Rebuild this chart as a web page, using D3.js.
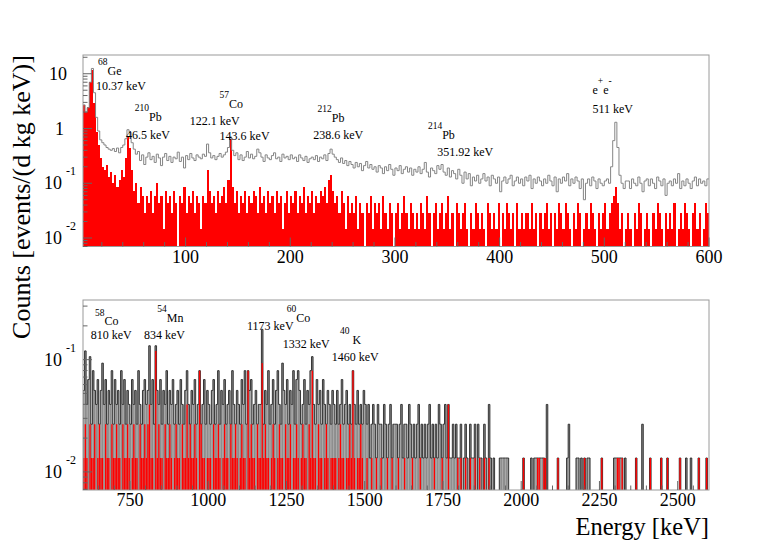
<!DOCTYPE html>
<html lang="en">
<head>
<meta charset="UTF-8">
<title>Energy spectrum</title>
<script src="https://d3js.org/d3.v7.min.js"></script>
<style>
  body { margin: 0; background: #fff; }
  svg { display: block; font-family: "Liberation Serif", "Times New Roman", serif; }
</style>
</head>
<body>
<svg id="chart" width="766" height="547"></svg>
<script>
// ---------- data ----------
// upper panel: 2 keV bins from 2 to 600 keV
const topBinStart = 2, topBinWidth = 2;
// grey line, events/(d kg keV)
const topGreyRate = [
  2.7, 2.0, 2.4, 7.0, 12.5, 4.5, 1.6, 0.9, 0.62, 0.55,
  0.5, 0.45, 0.42, 0.40, 0.43, 0.38, 0.44, 0.36, 0.45, 0.5,
  0.65, 0.95, 0.85, 0.55, 0.42, 0.34, 0.38, 0.26, 0.33, 0.22,
  0.3, 0.36, 0.27, 0.31, 0.24, 0.34, 0.29, 0.21, 0.3, 0.35,
  0.26, 0.31, 0.24, 0.3, 0.28, 0.37, 0.25, 0.3, 0.19, 0.32,
  0.27, 0.35, 0.29, 0.26, 0.33, 0.3, 0.28, 0.34, 0.31, 0.52,
  0.36, 0.29, 0.32, 0.27, 0.31, 0.35, 0.3, 0.33, 0.37, 0.45,
  0.7, 0.4, 0.32, 0.36, 0.27, 0.33, 0.26, 0.3, 0.38, 0.29,
  0.34, 0.28, 0.31, 0.42, 0.36, 0.3, 0.25, 0.33, 0.29, 0.27,
  0.32, 0.36, 0.28, 0.3, 0.25, 0.34, 0.29, 0.31, 0.27, 0.33,
  0.28, 0.3, 0.25, 0.33, 0.29, 0.26, 0.31, 0.24, 0.28, 0.3,
  0.27, 0.32, 0.25, 0.3, 0.28, 0.33, 0.26, 0.35, 0.42, 0.34,
  0.3, 0.27, 0.24, 0.29, 0.23, 0.26, 0.21, 0.25, 0.22, 0.19,
  0.24, 0.2, 0.23, 0.17, 0.21, 0.25, 0.19, 0.22, 0.18, 0.2,
  0.16, 0.21, 0.19, 0.15, 0.2, 0.17, 0.22, 0.18, 0.14, 0.19,
  0.17, 0.21, 0.15, 0.18, 0.2, 0.16, 0.19, 0.14, 0.18, 0.16,
  0.2, 0.15, 0.18, 0.24, 0.16, 0.13, 0.19, 0.17, 0.15, 0.21,
  0.18, 0.22, 0.16, 0.14, 0.19, 0.13, 0.17, 0.15, 0.12, 0.18,
  0.14, 0.1, 0.16, 0.12, 0.15, 0.09, 0.13, 0.11, 0.14, 0.1,
  0.12, 0.15, 0.11, 0.13, 0.09, 0.14, 0.12, 0.1, 0.13, 0.07,
  0.11, 0.13, 0.1, 0.12, 0.14, 0.09, 0.11, 0.13, 0.1, 0.12,
  0.09, 0.13, 0.11, 0.14, 0.08, 0.12, 0.1, 0.13, 0.11, 0.09,
  0.12, 0.1, 0.14, 0.11, 0.09, 0.13, 0.07, 0.12, 0.1, 0.13,
  0.11, 0.15, 0.09, 0.12, 0.1, 0.13, 0.11, 0.08, 0.12, 0.05,
  0.1, 0.12, 0.09, 0.13, 0.11, 0.08, 0.12, 0.1, 0.09, 0.11,
  0.12, 0.1, 0.2, 0.6, 1.3, 0.45, 0.14, 0.1, 0.08, 0.11,
  0.11, 0.08, 0.12, 0.1, 0.09, 0.13, 0.1, 0.07, 0.11, 0.12,
  0.09, 0.12, 0.1, 0.08, 0.13, 0.11, 0.09, 0.12, 0.06, 0.1,
  0.11, 0.09, 0.12, 0.1, 0.15, 0.08, 0.11, 0.09, 0.12, 0.1,
  0.08, 0.11, 0.13, 0.09, 0.12, 0.1, 0.11, 0.09, 0.12
];
// red filled histogram, counts per bin (one count = topRedUnit)
const topRedUnit = 0.0144;
const topRedCounts = [
  190, 140, 170, 500, 800, 200, 60, 35, 20, 14,
  12, 15, 9, 11, 7, 10, 6, 8, 12, 9,
  20, 48, 30, 12, 5, 7, 3, 6, 4, 2,
  4, 3, 5, 2, 4, 7, 3, 4, 1, 5,
  3, 4, 2, 5, 3, 0, 4, 3, 6, 2,
  4, 3, 5, 2, 4, 3, 1, 4, 3, 12,
  5, 3, 4, 2, 5, 3, 4, 6, 3, 8,
  45, 6, 3, 5, 2, 4, 3, 5, 2, 4,
  3, 5, 4, 2, 6, 3, 4, 2, 5, 3,
  4, 2, 5, 3, 4, 1, 3, 5, 2, 4,
  3, 5, 2, 4, 3, 6, 2, 4, 3, 5,
  2, 4, 3, 5, 4, 6, 3, 8, 10, 5,
  3, 4, 2, 5, 3, 1, 4, 2, 3, 2,
  4, 1, 3, 2, 0, 3, 2, 4, 1, 3,
  2, 3, 1, 4, 2, 1, 3, 2, 0, 2,
  3, 1, 2, 4, 2, 1, 3, 2, 1, 2,
  1, 3, 2, 1, 4, 2, 0, 2, 3, 1,
  2, 3, 1, 2, 4, 1, 2, 0, 3, 2,
  1, 2, 3, 1, 0, 2, 1, 3, 2, 1,
  2, 1, 0, 3, 2, 1, 2, 1, 3, 0,
  2, 1, 3, 2, 1, 2, 0, 3, 1, 2,
  1, 2, 2, 1, 3, 1, 2, 0, 2, 1,
  2, 3, 1, 2, 0, 2, 1, 3, 2, 1,
  3, 2, 1, 0, 2, 1, 3, 2, 0, 1,
  2, 1, 3, 2, 1, 0, 2, 1, 2, 3,
  1, 2, 3, 4, 6, 3, 1, 2, 0, 1,
  2, 1, 0, 2, 1, 3, 2, 0, 1, 2,
  1, 0, 2, 1, 3, 2, 1, 0, 2, 1,
  2, 1, 3, 0, 1, 2, 1, 3, 2, 1,
  0, 2, 3, 1, 2, 0, 1, 3, 2
];

// lower panel: 5 keV bins from 600 to 2600 keV, counts per bin (one count = bottomUnit)
const bottomBinStart = 600, bottomBinWidth = 5;
const bottomUnit = 0.0133;
const bottomGreyCounts = [
  4,9,3,5,8,2,6,4,3,5, 2,4,7,3,5,2,4,3,6,2, 5,3,4,2,6,3,5,2,4,3, 2,5,3,4,2,6,3,2,4,5,
  3,4,10,3,5,2,10,4,3,5, 2,4,3,6,2,4,3,5,2,3, 4,2,5,3,2,4,6,3,2,4, 3,5,2,3,6,2,3,5,2,4,
  3,2,4,5,2,3,6,2,4,3, 5,2,3,4,2,6,3,2,4,3, 2,5,3,6,2,6,4,5,2,3, 4,2,3,3,14,2,4,3,6,2,
  3,5,2,4,6,3,2,7,4,3, 5,2,4,3,6,2,5,6,4,2, 3,5,2,4,3,6,8,3,2,5, 3,4,2,5,3,2,4,3,2,4,
  3,2,4,2,3,5,2,3,4,2, 3,2,6,3,2,4,2,3,2,4, 3,2,3,1,2,3,2,1,3,2, 2,1,3,2,1,2,3,1,2,2,
  2,1,2,3,1,2,2,1,3,2, 1,2,1,2,3,1,2,1,2,1, 2,3,1,2,1,2,1,3,2,1, 2,3,1,3,1,1,2,1,2,1,
  1,2,0,1,2,1,0,2,1,1, 2,0,2,1,1,0,2,1,0,3, 1,0,1,0,0,0,1,1,1,1, 1,1,0,0,0,0,0,0,0,0,
  0,1,0,0,0,0,1,0,1,1, 1,1,1,1,1,0,3,0,0,0, 0,0,0,1,0,0,0,0,0,1, 2,0,0,0,0,1,1,0,1,0,
  1,0,1,1,0,0,0,0,0,0, 0,1,0,0,0,0,0,0,0,1, 1,1,1,1,1,0,1,0,0,0, 0,0,0,1,0,0,0,2,0,0,
  0,0,1,0,0,0,0,0,0,1, 0,0,0,1,0,0,0,0,0,0, 0,1,0,0,0,1,0,0,1,0, 0,0,0,1,0,0,0,0,1,0
];
const bottomRedCounts = [
  1,2,1,0,2,1,1,2,0,1, 2,1,1,0,2,1,1,0,2,1, 1,2,1,1,0,2,1,1,2,1, 0,1,2,1,1,0,2,1,1,2,
  1,2,3,1,1,0,9,1,2,1, 1,0,2,1,1,2,1,0,1,2, 1,1,0,2,1,1,3,1,2,1, 1,2,1,0,6,2,1,1,0,1,
  1,1,0,2,1,1,2,1,0,1, 2,1,1,0,2,1,1,2,1,0, 1,2,1,1,0,6,1,2,1,1, 0,2,1,1,7,1,2,1,1,0,
  1,2,1,0,1,2,1,1,0,2, 1,1,2,0,1,1,2,1,0,1, 2,1,1,0,2,1,6,1,1,0, 2,1,1,0,1,2,1,0,1,1,
  1,1,0,1,2,1,1,0,1,1, 2,1,6,1,0,1,1,2,1,0, 0,1,0,0,1,0,0,1,0,0, 1,0,0,0,1,0,0,1,0,0,
  0,1,0,0,0,1,0,0,0,0, 1,0,0,0,0,1,0,0,0,0, 0,0,0,0,1,0,0,0,0,1, 0,0,0,3,0,0,0,0,0,1,
  0,1,0,0,1,0,0,1,0,0, 1,0,0,1,0,0,1,0,0,1, 0,0,0,0,0,0,0,0,0,0, 0,0,0,0,0,0,0,0,0,0,
  0,1,0,0,0,0,0,0,0,0, 1,1,0,0,1,1,0,0,0,0, 0,0,0,1,0,0,0,0,0,0, 0,0,0,0,0,0,0,0,0,0,
  1,0,0,0,0,0,0,0,0,0, 0,1,0,0,0,0,0,0,0,0, 0,1,1,0,1,0,0,0,0,0, 0,0,0,1,0,0,0,0,0,0,
  0,0,1,0,0,0,0,0,0,1, 0,0,0,1,0,0,0,0,0,0, 0,1,0,0,0,0,0,0,0,0, 0,0,0,1,0,0,0,0,1,0
];

const topTicks = [100, 200, 300, 400, 500, 600];
const bottomTicks = [750, 1000, 1250, 1500, 1750, 2000, 2250, 2500];

// line labels, ROOT-latex style, placed at (keV, value) with left/baseline alignment
const topNotes = [
  { text: "^{68}Ge", e: 16.3, v: 9.3 },
  { text: "10.37 keV", e: 14.4, v: 5.0 },
  { text: "^{210}Pb", e: 51.5, v: 1.38 },
  { text: "46.5 keV", e: 43, v: 0.65 },
  { text: "^{57}Co", e: 132.5, v: 2.39 },
  { text: "122.1 keV", e: 103.9, v: 1.17 },
  { text: "143.6 keV", e: 132.5, v: 0.62 },
  { text: "^{212}Pb", e: 226, v: 1.34 },
  { text: "238.6 keV", e: 222, v: 0.64 },
  { text: "^{214}Pb", e: 331.5, v: 0.64 },
  { text: "351.92 keV", e: 340.4, v: 0.31 },
  { text: "e^{+}e^{-}", e: 488.7, v: 4.25 },
  { text: "511 keV", e: 488.7, v: 1.96 }
];
const bottomNotes = [
  { text: "^{58}Co", e: 638, v: 0.203 },
  { text: "810 keV", e: 624.6, v: 0.153 },
  { text: "^{54}Mn", e: 837.4, v: 0.2175 },
  { text: "834 keV", e: 795, v: 0.153 },
  { text: "1173 keV", e: 1124, v: 0.183 },
  { text: "^{60}Co", e: 1250.8, v: 0.2175 },
  { text: "1332 keV", e: 1238, v: 0.127 },
  { text: "^{40} K", e: 1421, v: 0.138 },
  { text: "1460 keV", e: 1394.6, v: 0.0965 }
];

if (topGreyRate.length !== 299 || topRedCounts.length !== 299 ||
    bottomGreyCounts.length !== 400 || bottomRedCounts.length !== 400) {
  throw new Error("bin count mismatch " + [topGreyRate.length, topRedCounts.length,
    bottomGreyCounts.length, bottomRedCounts.length].join(","));
}

// ---------- layout ----------
const svg = d3.select("#chart");
const plotL = 83, plotR = 709;

const xTop = d3.scaleLinear().domain([2, 600]).range([plotL, plotR]);
const yTop = d3.scaleLog().domain([0.007, 22]).range([246.5, 55]);
const xBot = d3.scaleLinear().domain([600, 2600]).range([plotL, plotR]);
const yBot = d3.scaleLog().domain([0.0069, 0.34]).range([490, 300]);

// draw "^{..}" superscripts the way TLatex does
function latex(textSel, str, supSize, rise) {
  const parts = str.split(/(\^\{[^}]*\})/).filter(s => s.length);
  let up = false;
  parts.forEach(p => {
    const m = p.match(/^\^\{(.*)\}$/);
    if (m) {
      textSel.append("tspan").attr("dy", up ? 0 : -rise).attr("font-size", supSize).text(m[1]);
      up = true;
    } else {
      textSel.append("tspan").attr("dy", up ? rise : 0).text(p);
      up = false;
    }
  });
}

function bins(values, start, width) {
  return values.map((v, i) => ({ x0: start + i * width, x1: start + (i + 1) * width, v }));
}

function stepPath(data, x, y) {
  const pts = data.map(d => [d.x0, Math.max(d.v, 1e-5)]);
  const last = data[data.length - 1];
  pts.push([last.x1, Math.max(last.v, 1e-5)]);
  return d3.line().x(d => x(d[0])).y(d => y(d[1])).curve(d3.curveStepAfter)(pts);
}

function panel(id, x, y, majorX, minorX) {
  const [yb, yt] = y.range();
  svg.append("clipPath").attr("id", id)
    .append("rect").attr("x", plotL).attr("y", yt).attr("width", plotR - plotL).attr("height", yb - yt);
  const g = svg.append("g");
  const plot = g.append("g").attr("clip-path", `url(#${id})`);

  // frame
  g.append("rect")
    .attr("x", plotL).attr("y", yt).attr("width", plotR - plotL).attr("height", yb - yt)
    .attr("fill", "none").attr("stroke", "#9a9a9a").attr("stroke-width", 1);

  // x ticks (inside, from the bottom edge)
  g.append("g").selectAll("line").data(minorX).join("line")
    .attr("x1", d => x(d)).attr("x2", d => x(d))
    .attr("y1", yb).attr("y2", d => yb - (majorX.includes(d) ? 9 : 4.5))
    .attr("stroke", "#666").attr("stroke-width", 1);
  g.append("g").selectAll("text").data(majorX).join("text")
    .attr("x", d => x(d)).attr("y", yb + 16)
    .attr("text-anchor", "middle").attr("font-size", 18).attr("fill", "#000")
    .text(d => d);

  // y ticks (log, inside from the left edge)
  const yt_ = y.ticks();
  const isDecade = d => Math.abs(Math.log10(d) - Math.round(Math.log10(d))) < 1e-6;
  g.append("g").selectAll("line").data(yt_).join("line")
    .attr("x1", plotL).attr("x2", d => plotL + (isDecade(d) ? 9 : 4.5))
    .attr("y1", d => y(d)).attr("y2", d => y(d))
    .attr("stroke", "#666").attr("stroke-width", 1);

  yt_.filter(isDecade).forEach(d => {
    const p = Math.round(Math.log10(d));
    const t = g.append("text").attr("font-size", 18).attr("fill", "#000").attr("y", y(d) + 6);
    if (p === 0) t.attr("x", 64).attr("text-anchor", "end").text("1");
    else if (p === 1) t.attr("x", 67).attr("text-anchor", "end").text("10");
    else {
      t.attr("x", 44);
      t.append("tspan").text("10");
      t.append("tspan").attr("dx", 4).attr("dy", -14).attr("font-size", 12).text(String(p));
    }
  });
  return { g, plot };
}

// ---------- upper panel ----------
const topPanel = panel("clipTop", xTop, yTop, topTicks, d3.range(20, 601, 20));
const topRed = bins(topRedCounts.map(c => c * topRedUnit), topBinStart, topBinWidth).filter(d => d.v > 0);
topPanel.plot.append("g").attr("shape-rendering", "crispEdges")
  .selectAll("rect").data(topRed).join("rect")
  .attr("x", d => xTop(d.x0))
  .attr("width", d => xTop(d.x1) - xTop(d.x0))
  .attr("y", d => yTop(d.v))
  .attr("height", d => yTop.range()[0] - yTop(d.v))
  .attr("fill", "#ff0000");
topPanel.plot.append("path")
  .attr("d", stepPath(bins(topGreyRate, topBinStart, topBinWidth), xTop, yTop))
  .attr("fill", "none").attr("stroke", "#858585").attr("stroke-width", 1);

// ---------- lower panel ----------
const botPanel = panel("clipBot", xBot, yBot, bottomTicks, d3.range(650, 2600, 50));
const botGrey = bins(bottomGreyCounts.map(c => c * bottomUnit), bottomBinStart, bottomBinWidth);
const botRed = bins(bottomRedCounts.map(c => c * bottomUnit), bottomBinStart, bottomBinWidth).filter(d => d.v > 0);
botPanel.plot.append("g").selectAll("rect").data(botGrey.filter(d => d.v > 0)).join("rect")
  .attr("x", d => xBot(d.x0))
  .attr("width", d => xBot(d.x1) - xBot(d.x0))
  .attr("y", d => yBot(d.v))
  .attr("height", d => yBot.range()[0] - yBot(d.v))
  .attr("fill", "#8e8e8e");
botPanel.plot.append("path")
  .attr("d", stepPath(botGrey, xBot, yBot))
  .attr("fill", "none").attr("stroke", "#262626").attr("stroke-width", 0.9);
botPanel.plot.append("g").selectAll("rect").data(botRed).join("rect")
  .attr("x", d => xBot(d.x0) + 0.1)
  .attr("width", d => xBot(d.x1) - xBot(d.x0) - 0.2)
  .attr("y", d => yBot(d.v))
  .attr("height", d => yBot.range()[0] - yBot(d.v))
  .attr("fill", "#ff0000");

// ---------- annotations ----------
topNotes.forEach(n => {
  const t = svg.append("text").attr("x", xTop(n.e)).attr("y", yTop(n.v))
    .attr("font-size", 12).attr("fill", "#000");
  latex(t, n.text, 9.5, 10);
});
bottomNotes.forEach(n => {
  const t = svg.append("text").attr("x", xBot(n.e)).attr("y", yBot(n.v))
    .attr("font-size", 12).attr("fill", "#000");
  latex(t, n.text, 9.5, 9.5);
});

// ---------- axis titles ----------
svg.append("text")
  .attr("transform", "translate(30,197) rotate(-90)")
  .attr("text-anchor", "middle").attr("font-size", 26).attr("fill", "#000")
  .text("Counts [events/(d kg keV)]");
svg.append("text")
  .attr("x", plotR).attr("y", 535)
  .attr("text-anchor", "end").attr("font-size", 24.5).attr("fill", "#000")
  .text("Energy [keV]");
</script>
</body>
</html>
